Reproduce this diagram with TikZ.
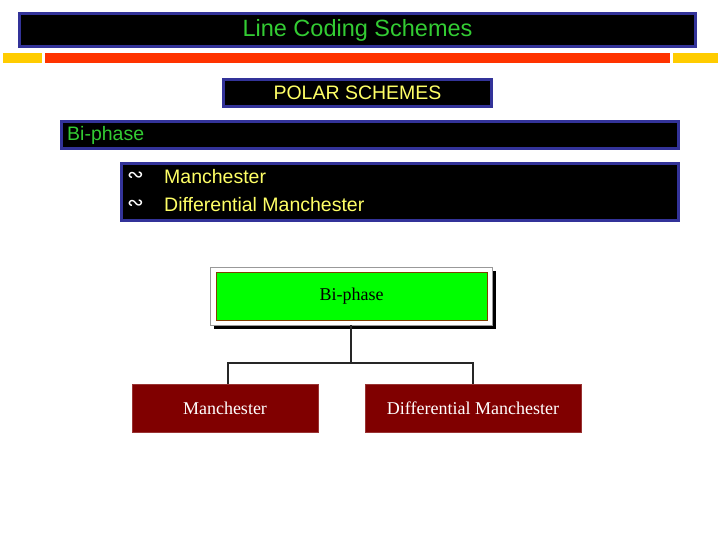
\documentclass[tikz,border=0pt]{standalone}
\usepackage{fontspec}
\setmainfont{Liberation Serif}
\setsansfont{Liberation Sans}
\newfontfamily\dejavu{DejaVu Sans}
\definecolor{bborder}{RGB}{51,51,153}
\definecolor{gtext}{RGB}{51,204,51}
\definecolor{ytext}{RGB}{255,255,102}
\definecolor{baryellow}{RGB}{255,204,0}
\definecolor{barred}{RGB}{255,51,0}
\definecolor{dred}{RGB}{128,0,0}
\definecolor{bgreen}{RGB}{0,255,0}
\definecolor{brownborder}{RGB}{128,64,0}
\tikzset{
  blackbox/.style={draw=bborder, line width=3pt, fill=black, inner sep=0pt},
  redbox/.style={fill=dred, draw=dred!80!white, line width=0.6pt, inner sep=0pt, text=white, font=\fontsize{18}{20}\selectfont},
  conn/.style={draw=black!85, line width=1.8pt},
  bulletglyph/.style={anchor=west, inner sep=0pt, text=white, font=\dejavu\fontsize{20}{22}\selectfont},
}
\begin{document}
\begin{tikzpicture}[x=1pt, y=-1pt]
\useasboundingbox (0,0) rectangle (720,540);
\fill[white] (0,0) rectangle (720,540);
% title
\node[blackbox, minimum width=676pt, minimum height=33pt, text=gtext, font=\sffamily\fontsize{23.5}{26}\selectfont] (title) at (357.5,30) {Line Coding Schemes};
% bars
\fill[baryellow] (3,53) rectangle (42,63);
\fill[barred] (45,53) rectangle (670,63);
\fill[baryellow] (673,53) rectangle (718,63);
% polar
\node[blackbox, minimum width=268pt, minimum height=27pt, text=ytext, font=\sffamily\fontsize{19.5}{22}\selectfont] (polar) at (357.5,93) {POLAR SCHEMES};
% bi-phase bar
\node[blackbox, minimum width=617pt, minimum height=27pt] (bibar) at (370,135) {};
\node[anchor=west, inner sep=0pt, text=gtext, font=\sffamily\fontsize{19.5}{22}\selectfont] (bitext) at (67,135) {Bi-phase};
% bullets box
\node[blackbox, minimum width=557pt, minimum height=57pt] (list) at (400,192) {};
\node[bulletglyph] (b1) at (127,177) {∾};
\node[bulletglyph] (b2) at (127,205) {∾};
\node[anchor=west, inner sep=0pt, text=ytext, font=\sffamily\fontsize{19.5}{22}\selectfont] (m1) at (164,177) {Manchester};
\node[anchor=west, inner sep=0pt, text=ytext, font=\sffamily\fontsize{19.5}{22}\selectfont] (m2) at (164,205) {Differential Manchester};
% chart
\fill[black] (214,271) rectangle (496,329);
\node[fill=white, draw=black!40, line width=0.8pt, minimum width=282pt, minimum height=58pt, inner sep=0pt] (frame) at (351,296) {};
\node[fill=bgreen, draw=brownborder, line width=0.8pt, minimum width=271pt, minimum height=48pt, inner sep=0pt, font=\fontsize{18}{20}\selectfont] (bp) at (351.5,296) {Bi-phase};
\node[redbox, minimum width=186pt, minimum height=48pt] (man) at (225,408) {Manchester};
\node[redbox, minimum width=216pt, minimum height=48pt] (diff) at (473,408) {Differential Manchester};
\coordinate (j) at (351,363);
\draw[conn] (frame.south) -- (j);
\draw[conn] ([xshift=3pt]man.north) |- (j) -| (diff.north);
\end{tikzpicture}
\end{document}
